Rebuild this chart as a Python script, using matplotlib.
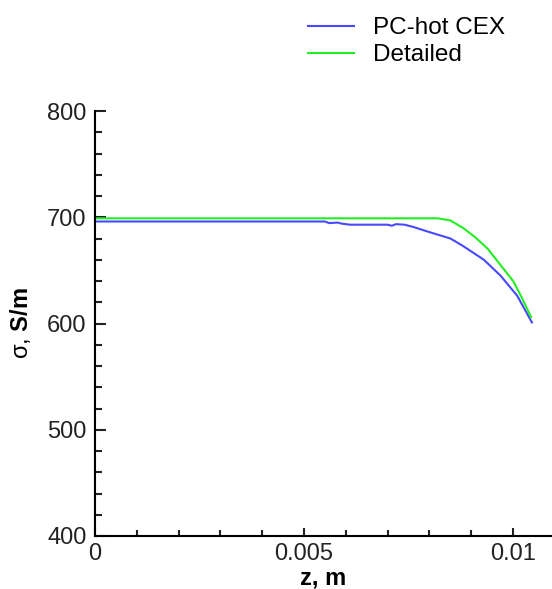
import matplotlib
matplotlib.use("Agg")
import matplotlib.pyplot as plt
from matplotlib.ticker import MultipleLocator, FixedLocator

plt.rcParams['font.family'] = ['Liberation Sans', 'DejaVu Sans']
plt.rcParams['mathtext.fontset'] = 'custom'
plt.rcParams['mathtext.rm'] = 'Liberation Sans'
plt.rcParams['mathtext.bf'] = 'Liberation Sans:bold'
plt.rcParams['mathtext.it'] = 'Liberation Sans:italic'

# Data
z_pc = [0, 0.0055, 0.0056, 0.0058, 0.0059, 0.0061, 0.0070, 0.0071, 0.0072, 0.0074,
        0.0076, 0.0080, 0.0085, 0.0088, 0.0093, 0.0097, 0.0101, 0.01045]
s_pc = [696, 696, 694.5, 695, 694, 693, 693, 692, 693.5, 693,
        691, 686, 680, 673, 660, 645, 626, 601]
z_det = [0, 0.0082, 0.0085, 0.0088, 0.0091, 0.0094, 0.0097, 0.0100, 0.0102, 0.01043]
s_det = [699, 699, 697, 690, 681, 670, 655, 640, 625, 606]
labels = ["PC-hot CEX", "Detailed"]
xticks = [0, 0.005, 0.01]
xticklabels = ["0", "0.005", "0.01"]
yticks = [400, 500, 600, 700, 800]

W, H = 552, 589
fig = plt.figure(figsize=(W / 100, H / 100), dpi=100)
ax = fig.add_axes([95 / W, 1 - 536 / H, 457 / W, 425 / H])

l1, = ax.plot(z_pc, s_pc, color='#4848ff', lw=1.5)
l2, = ax.plot(z_det, s_det, color='#22ee22', lw=1.5)

ax.set_xlim(0, 0.01093)
ax.set_ylim(400, 800)
for s in ['top', 'right']:
    ax.spines[s].set_visible(False)
for s in ['left', 'bottom']:
    ax.spines[s].set_linewidth(1.5)

ax.xaxis.set_major_locator(FixedLocator(xticks))
ax.set_xticklabels(xticklabels)
ax.xaxis.set_minor_locator(MultipleLocator(0.001))
ax.yaxis.set_major_locator(FixedLocator(yticks))
ax.yaxis.set_minor_locator(MultipleLocator(20))

ax.tick_params(axis='both', which='both', direction='in', width=1.5, labelsize=17, colors='#222222')
ax.tick_params(axis='y', which='major', length=8, pad=6)
ax.tick_params(axis='y', which='minor', length=5)
ax.tick_params(axis='x', which='major', length=6, pad=5)
ax.tick_params(axis='x', which='minor', length=4)

ax.set_xlabel('z, m', fontsize=17, fontweight='bold', labelpad=1)
ax.set_ylabel(r'$\mathrm{\sigma}$, $\mathbf{S/m}$', fontsize=17, labelpad=10)

fig.legend([l1, l2], labels, loc='upper left',
           bbox_to_anchor=(308 / W, 1 - 17 / H), frameon=False,
           fontsize=17.5, handlelength=1.9, handletextpad=0.78,
           labelspacing=0.22, borderpad=0, borderaxespad=0)

fig.savefig('out.png', dpi=100)
